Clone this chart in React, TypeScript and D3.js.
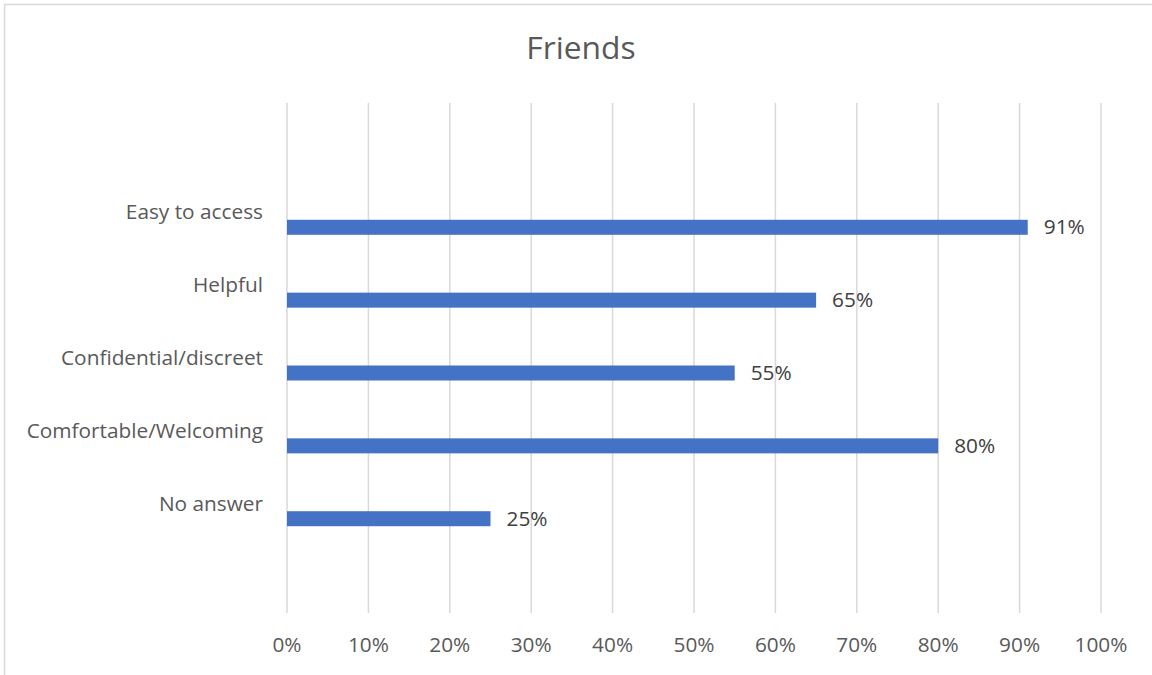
import React from "react";
import * as d3 from "d3";

const title = "Friends";
const categories = ["Easy to access", "Helpful", "Confidential/discreet", "Comfortable/Welcoming", "No answer"];
const values = [0.91, 0.65, 0.55, 0.8, 0.25];
const xTicks = [0, 0.1, 0.2, 0.3, 0.4, 0.5, 0.6, 0.7, 0.8, 0.9, 1.0];

const W = 1152;
const H = 675;
const plot = { left: 287, right: 1101, top: 103, bottom: 613 };
const FONT = "'Open Sans', 'Liberation Sans', sans-serif";
const FS = 20.8;

export default function App() {
  const x = d3.scaleLinear().domain([0, 1]).range([plot.left, plot.right]);
  const y = d3
    .scaleBand<string>()
    .domain(categories)
    .range([plot.top, plot.bottom])
    .paddingInner(0)
    .paddingOuter(1);
  const step = y.step();
  const barH = 15;
  const fmt = d3.format(".0%");

  return (
    <svg
      width={W}
      height={H}
      style={{ position: "absolute", left: 0, top: 0, background: "#fff" }}
      fontFamily={FONT}
    >
      <rect x={4.5} y={4.5} width={W + 10} height={H + 10} fill="#fff" stroke="#d9d9d9" strokeWidth={1.5} />
      <text x={581} y={59} textAnchor="middle" fontSize={31.8} fill="#595959">
        {title}
      </text>
      {xTicks.map((t) => (
        <g key={t}>
          <line
            x1={x(t)}
            x2={x(t)}
            y1={plot.top}
            y2={plot.bottom}
            stroke="#d9d9d9"
            strokeWidth={1.5}
          />
          <text x={x(t)} y={652} textAnchor="middle" fontSize={FS} fill="#595959">
            {fmt(t)}
          </text>
        </g>
      ))}
      {categories.map((c, i) => {
        const center = (y(c) as number) + step / 2;
        const barTop = center + 7.5;
        return (
          <g key={c}>
            <text x={263} y={center + 7} textAnchor="end" fontSize={FS} fill="#595959">
              {c}
            </text>
            <rect
              x={x(0)}
              y={barTop}
              width={x(values[i]) - x(0)}
              height={barH}
              fill="#4472C4"
            />
            <text x={x(values[i]) + 16} y={barTop + barH / 2 + 7} fontSize={FS} fill="#404040">
              {fmt(values[i])}
            </text>
          </g>
        );
      })}
    </svg>
  );
}
